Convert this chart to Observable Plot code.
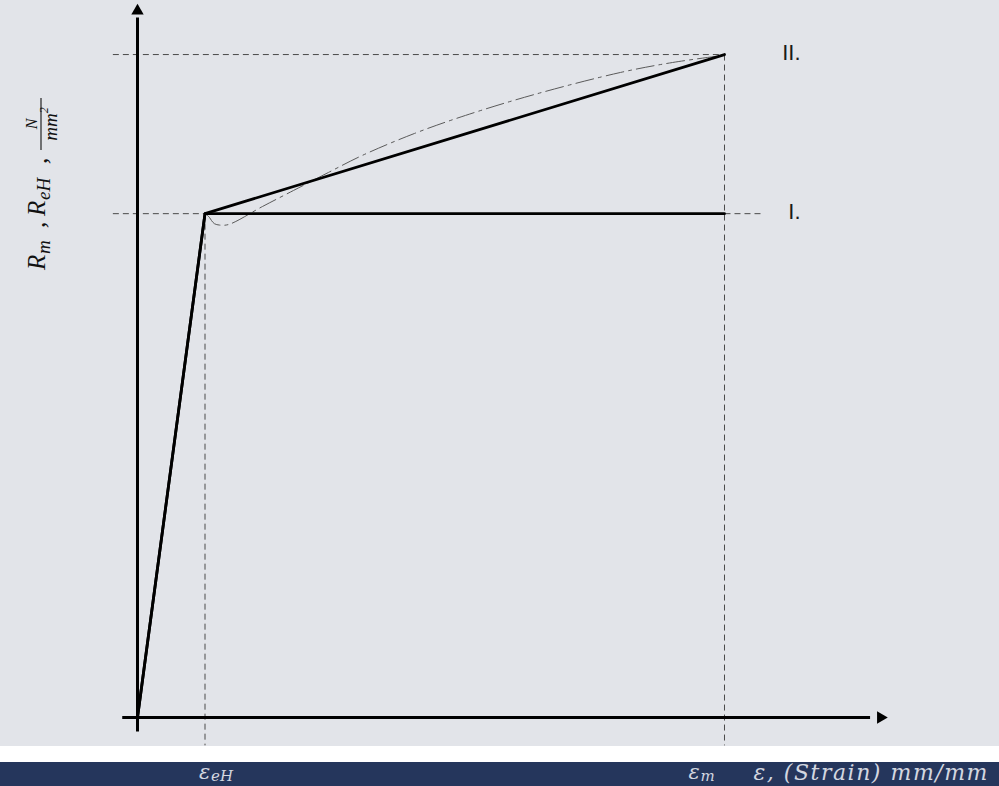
<!DOCTYPE html>
<html><head><meta charset="utf-8">
<script src="https://cdn.jsdelivr.net/npm/d3@7"></script>
<script src="https://cdn.jsdelivr.net/npm/@observablehq/plot@0.6"></script>
<style>
html,body{margin:0;padding:0;background:#fff;}
#chart{width:999px;height:786px;position:relative;overflow:hidden;
background:linear-gradient(to bottom,#e2e4e9 0px,#e2e4e9 746px,#ffffff 746px,#ffffff 762px,#25365c 762px,#25365c 786px);}
#chart svg{position:absolute;left:0;top:0;}
</style></head><body><div id="chart"></div>
<script>
// ---- data (strain in mm/mm, stress in N/mm², schematic) ----
const strainKey = [0, 0.0115, 0.1];          // origin, ε_eH, ε_m
const stressModelI = [0, 380, 380];         // I.  elastic – perfectly plastic
const stressModelII = [0, 380, 500];        // II. bilinear hardening
const realStrain = [0.01175, 0.01227, 0.01261, 0.01312, 0.01397, 0.0155, 0.02129, 0.02658, 0.03254, 0.03833, 0.04719, 0.05588, 0.06763, 0.08228, 0.09114, 0.09966];
const realStress = [379.4, 377.1, 374.8, 372.4, 371.4, 371.8, 385.4, 397.5, 411.1, 424.0, 440.5, 454.1, 469.9, 486.5, 494.0, 499.3];
const modelLabels = ["I.", "II."];
const modelEndStress = [380, 500];
const tickSymbols = ["ε", "ε"];
const tickSubs = ["eH", "m"];
const tickStrain = [0.0115, 0.1];
const xAxisTitle = "ε, (Strain) mm/mm";
const axisStrainExtent = [-0.0026, 0.1248];
const axisStressExtent = [-10.6, 528];
const arrowTips = [0.1266, 533];
const guideStrainStart = -0.0042;
const guideStrainEnd = 0.1062;
const guideStressBottom = -21;

const ReH = stressModelI[1], Rm = stressModelII[2];
const epsEH = strainKey[1], epsM = strainKey[2];

const modelI = strainKey.map((x, i) => ({x, y: stressModelI[i]}));
const modelII = strainKey.map((x, i) => ({x, y: stressModelII[i]}));
const real = realStrain.map((x, i) => ({x, y: realStress[i]}));

const guides = [
  {x1: guideStrainStart, y1: Rm, x2: epsM, y2: Rm},
  {x1: guideStrainStart, y1: ReH, x2: epsEH, y2: ReH},
  {x1: epsM, y1: ReH, x2: guideStrainEnd, y2: ReH},
  {x1: epsEH, y1: ReH, x2: epsEH, y2: guideStressBottom},
  {x1: epsM, y1: Rm, x2: epsM, y2: guideStressBottom}
];
const axes = [
  {x1: 0, y1: axisStressExtent[0], x2: 0, y2: axisStressExtent[1]},
  {x1: axisStrainExtent[0], y1: 0, x2: axisStrainExtent[1], y2: 0}
];
const heads = [
  {x: 0, y: arrowTips[1], rot: 0},
  {x: arrowTips[0], y: 0, rot: 90}
];
const labels = modelLabels.map((t, i) => ({t, y: modelEndStress[i]}));
const ticks = tickStrain.map((x, i) => ({x, s: tickSymbols[i], sub: tickSubs[i]}));

const bandFont = "'DejaVu Serif', 'Liberation Serif', serif";
const bandFill = "#d3d7e0";
const bandText = {y: guideStressBottom, textAnchor: "start", fontStyle: "italic", fontFamily: bandFont, fill: bandFill};

const plot = Plot.plot({
  width: 999, height: 786,
  marginLeft: 137, marginRight: 112, marginTop: 5, marginBottom: 69,
  x: {domain: [0, 0.12777], axis: null},
  y: {domain: [0, 537], axis: null},
  style: {background: "transparent", overflow: "visible"},
  marks: [
    Plot.link(guides, {x1: "x1", y1: "y1", x2: "x2", y2: "y2", stroke: "#4a4a4a", strokeWidth: 1, strokeDasharray: "6,4"}),
    Plot.line(real, {x: "x", y: "y", curve: "catmull-rom", stroke: "#5a5a5a", strokeWidth: 1, strokeDasharray: "18,5,3,5"}),
    Plot.line(modelI, {x: "x", y: "y", stroke: "#000", strokeWidth: 2.8}),
    Plot.line(modelII, {x: "x", y: "y", stroke: "#000", strokeWidth: 2.8}),
    Plot.link(axes, {x1: "x1", y1: "y1", x2: "x2", y2: "y2", stroke: "#000", strokeWidth: 3}),
    Plot.dot(heads, {x: "x", y: "y", rotate: "rot", symbol: "triangle", r: 4.6, fill: "#000", stroke: null}),
    Plot.text(labels, {x: 0.11295, y: "y", text: "t", textAnchor: "end", dy: -2, fontSize: 22, fontFamily: "'Liberation Sans', sans-serif", fill: "#1a1a1a"}),
    // ε_eH (to the right of its guide)
    Plot.text(ticks.slice(0, 1), {...bandText, x: "x", text: "s", dx: -6, dy: 27, fontSize: 21}),
    Plot.text(ticks.slice(0, 1), {...bandText, x: "x", text: "sub", dx: 6, dy: 31, fontSize: 15}),
    // ε_m (to the left of its guide)
    Plot.text(ticks.slice(1), {...bandText, x: "x", text: "s", dx: -36, dy: 27, fontSize: 21}),
    Plot.text(ticks.slice(1), {...bandText, x: "x", text: "sub", dx: -24, dy: 31, fontSize: 15}),
    Plot.text([xAxisTitle], {...bandText, x: 0.10494, text: d => d, dy: 28, fontSize: 22})
  ]
});
document.getElementById("chart").appendChild(plot);

const svg = d3.select(plot);
// stretch the axis title to the reference's width
svg.selectAll("text").filter(function() { return this.textContent === xAxisTitle; })
  .attr("textLength", 234).attr("lengthAdjust", "spacing");

// rotated y-axis label with subscripts and fraction
const g = svg.append("g").attr("transform", "translate(45,270) rotate(-90)")
  .style("font-family", "'Liberation Serif', serif").style("font-style", "italic").attr("fill", "#111");
const t = (x, y, size, s, anchor) => g.append("text").attr("x", x).attr("y", y)
  .style("font-size", size + "px").attr("text-anchor", anchor || "start").text(s);
t(0, 0, 25, "R");
t(16, 5, 19, "m");
t(42, 0, 25, ",");
t(54, 0, 25, "R");
t(70, 5, 19, "eH");
t(106, 2, 25, ",");
g.append("line").attr("x1", 120).attr("x2", 172).attr("y1", -4).attr("y2", -4).attr("stroke", "#111").attr("stroke-width", 1.1);
t(146, -8, 16, "N", "middle");
const den = g.append("text").attr("x", 146).attr("y", 12).style("font-size", "19px").attr("text-anchor", "middle");
den.append("tspan").text("mm");
den.append("tspan").attr("dy", -9).style("font-size", "12px").text("2");
</script>
</body></html>
